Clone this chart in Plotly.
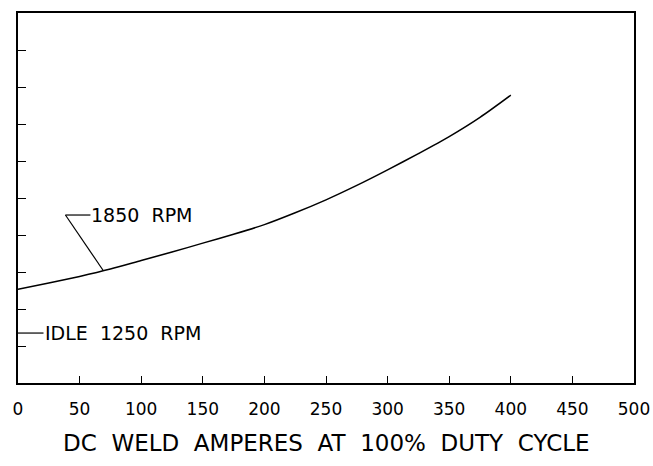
import numpy as np
import plotly.graph_objects as go

# Weld current (A) and the plotted response at 1850 RPM
amps = [0, 25, 50, 75, 100, 125, 150, 175, 200, 225, 250, 275, 300, 325, 350, 375, 400]
values = [2.53, 2.70, 2.88, 3.08, 3.31, 3.54, 3.78, 4.02, 4.28, 4.60, 4.95, 5.34, 5.76, 6.20, 6.66, 7.18, 7.78]

x_ticks = [0, 50, 100, 150, 200, 250, 300, 350, 400, 450, 500]
y_ticks = [1, 2, 3, 4, 5, 6, 7, 8, 9]
idle_level = 1.35

FONT = "DejaVu Sans"
INK = "black"

fig = go.Figure()
fig.add_trace(go.Scatter(x=amps, y=values, mode="lines",
                         line=dict(color=INK, width=1.5, shape="spline", smoothing=0.8),
                         hoverinfo="skip", showlegend=False))

# leader for the 1850 RPM label, ending on the curve
lx0, lx1, ly = 38.5, 58.8, 4.54
tip_x = 69.3
tip_y = float(np.interp(tip_x, amps, values))
fig.add_shape(type="line", x0=lx0, y0=ly, x1=lx1, y1=ly, line=dict(color=INK, width=1.2))
fig.add_shape(type="line", x0=lx0, y0=ly, x1=tip_x, y1=tip_y, line=dict(color=INK, width=1.2))
fig.add_annotation(x=lx1, y=ly, text="1850  RPM", showarrow=False, xanchor="left",
                   yanchor="middle", xshift=-1, font=dict(family=FONT, size=19, color=INK))

# idle marker on the left axis
idle_x = 20.7
fig.add_shape(type="line", x0=0, y0=idle_level, x1=idle_x, y1=idle_level,
              line=dict(color=INK, width=1.2))
fig.add_annotation(x=idle_x, y=idle_level, text="IDLE  1250  RPM", showarrow=False,
                   xanchor="left", yanchor="middle", xshift=-1,
                   font=dict(family=FONT, size=19, color=INK))

# axis title
fig.add_annotation(x=0.5, y=-0.162, xref="paper", yref="paper", showarrow=False,
                   text="DC  WELD  AMPERES  AT  100%  DUTY  CYCLE",
                   xanchor="center", yanchor="middle",
                   font=dict(family=FONT, size=23, color=INK))

fig.update_layout(
    width=653, height=466,
    margin=dict(l=17.5, r=19, t=13, b=83, autoexpand=False),
    paper_bgcolor="white", plot_bgcolor="white",
    font=dict(family=FONT, color=INK),
    xaxis=dict(range=[0, 500], tickvals=x_ticks, ticktext=[str(v) for v in x_ticks],
               ticks="inside", ticklen=7, tickwidth=1.2, tickcolor=INK,
               showgrid=False, zeroline=False, showline=True, linecolor=INK,
               linewidth=1.6, mirror=True, automargin=False, ticklabelstandoff=10,
               tickfont=dict(size=17, family=FONT)),
    yaxis=dict(range=[0, 10], tickvals=y_ticks, showticklabels=False,
               ticks="inside", ticklen=8, tickwidth=1.2, tickcolor=INK,
               showgrid=False, zeroline=False, showline=True, linecolor=INK,
               linewidth=1.6, mirror=True, automargin=False),
)

fig.write_html("out.html")
